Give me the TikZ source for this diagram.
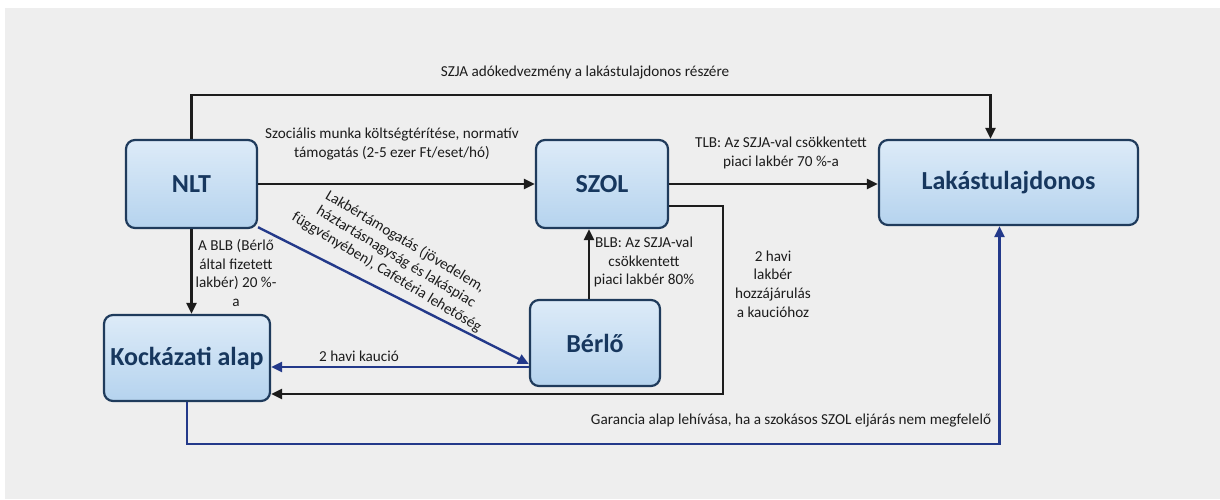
\documentclass[tikz,border=0pt]{standalone}
\usepackage{fontspec}
\setmainfont{Carlito}
\usetikzlibrary{arrows.meta,shadings}
\definecolor{bg}{HTML}{EEEEEE}
\definecolor{boxline}{HTML}{1F3B5C}
\definecolor{boxtop}{HTML}{DDEBF8}
\definecolor{boxbot}{HTML}{B5D3EE}
\definecolor{boxtext}{HTML}{17375E}
\definecolor{navy}{HTML}{23398A}
\definecolor{ink}{HTML}{1C1C1C}
\begin{document}
\begin{tikzpicture}[x=1pt,y=-1pt,
  box/.style={draw=boxline,line width=2.2pt,rounded corners=9pt,top color=boxtop,bottom color=boxbot,text=boxtext,font=\bfseries\fontsize{26}{30}\selectfont,inner sep=0pt},
  lbl/.style={font=\fontsize{15.2}{18.8}\selectfont,text=ink,align=center,inner sep=0pt},
  blk/.style={draw=ink,line width=2.4pt,-{Triangle[length=11pt,width=10pt]}},
  blu/.style={draw=navy,line width=2.4pt,-{Triangle[length=11pt,width=10pt]}},
]
\fill[white] (0,0) rectangle (1220,499);
\fill[bg] (5,8) rectangle (1220,499);
\useasboundingbox (0,0) rectangle (1220,499);

\node[box,minimum width=131pt,minimum height=88pt] (nlt) at (191.5,184) {NLT};
\node[box,minimum width=132pt,minimum height=88pt] (szol) at (602,184) {SZOL};
\node[box,minimum width=259pt,minimum height=85pt] (lak) at (1008.5,182.5) {Lakástulajdonos};
\node[box,minimum width=166pt,minimum height=86pt] (kock) at (187,358) {Kockázati alap};
\node[box,minimum width=130pt,minimum height=86pt] (berlo) at (595,343) {Bérlő};

% connectors
\draw[blk] (nlt.north) -- ++(0,-44) -| ([xshift=-18pt]lak.north);
\draw[blk] (nlt.east) -- (szol.west);
\draw[blk] (szol.east) -- (szol.east -| lak.west);
\draw[blk] (nlt.south) -- (nlt.south |- kock.north);
\draw[blu] (nlt.-33) -- ([yshift=-21pt]berlo.west);
\draw[blu] ([yshift=-24pt]berlo.west) -- ([yshift=-24pt]berlo.west -| kock.east);
\draw[blk] ([xshift=-6pt]berlo.north) -- ([xshift=-6pt]berlo.north |- szol.south);
\draw[blk] ([yshift=-22pt]szol.east) -- ++(54,0) |- ([yshift=-36pt]kock.east);
\draw[blu] (kock.south) -- ++(0,42) -| ([xshift=-9pt]lak.south);

% labels
\node[lbl] (l1) at (585,73) {SZJA adókedvezmény a lakástulajdonos részére};
\node[lbl] (l2) at (392,144) {Szociális munka költségtérítése, normatív\\támogatás (2-5 ezer Ft/eset/hó)};
\node[lbl] (l3) at (781,153) {TLB: Az SZJA-val csökkentett\\piaci lakbér 70 \%-a};
\node[lbl] (l4) at (236,273) {A BLB (Bérlő\\által fizetett\\lakbér) 20 \%-\\a};
\node[lbl] (l5) at (644,262) {BLB: Az SZJA-val\\csökkentett\\piaci lakbér 80\%};
\node[lbl] (l6) at (773,284) {2 havi\\lakbér\\hozzájárulás\\a kaucióhoz};
\node[lbl] (l7) at (359,356) {2 havi kaució};
\node[lbl] (l8) at (791,421) {Garancia alap lehívása, ha a szokásos SZOL eljárás nem megfelelő};
\node[lbl,rotate=-31,font=\fontsize{15.2}{18}\selectfont] (l9) at (396,257) {Lakbértámogatás (jövedelem,\\háztartásnagyság és lakáspiac\\függvényében), Cafetéria lehetőség};
\end{tikzpicture}
\end{document}
